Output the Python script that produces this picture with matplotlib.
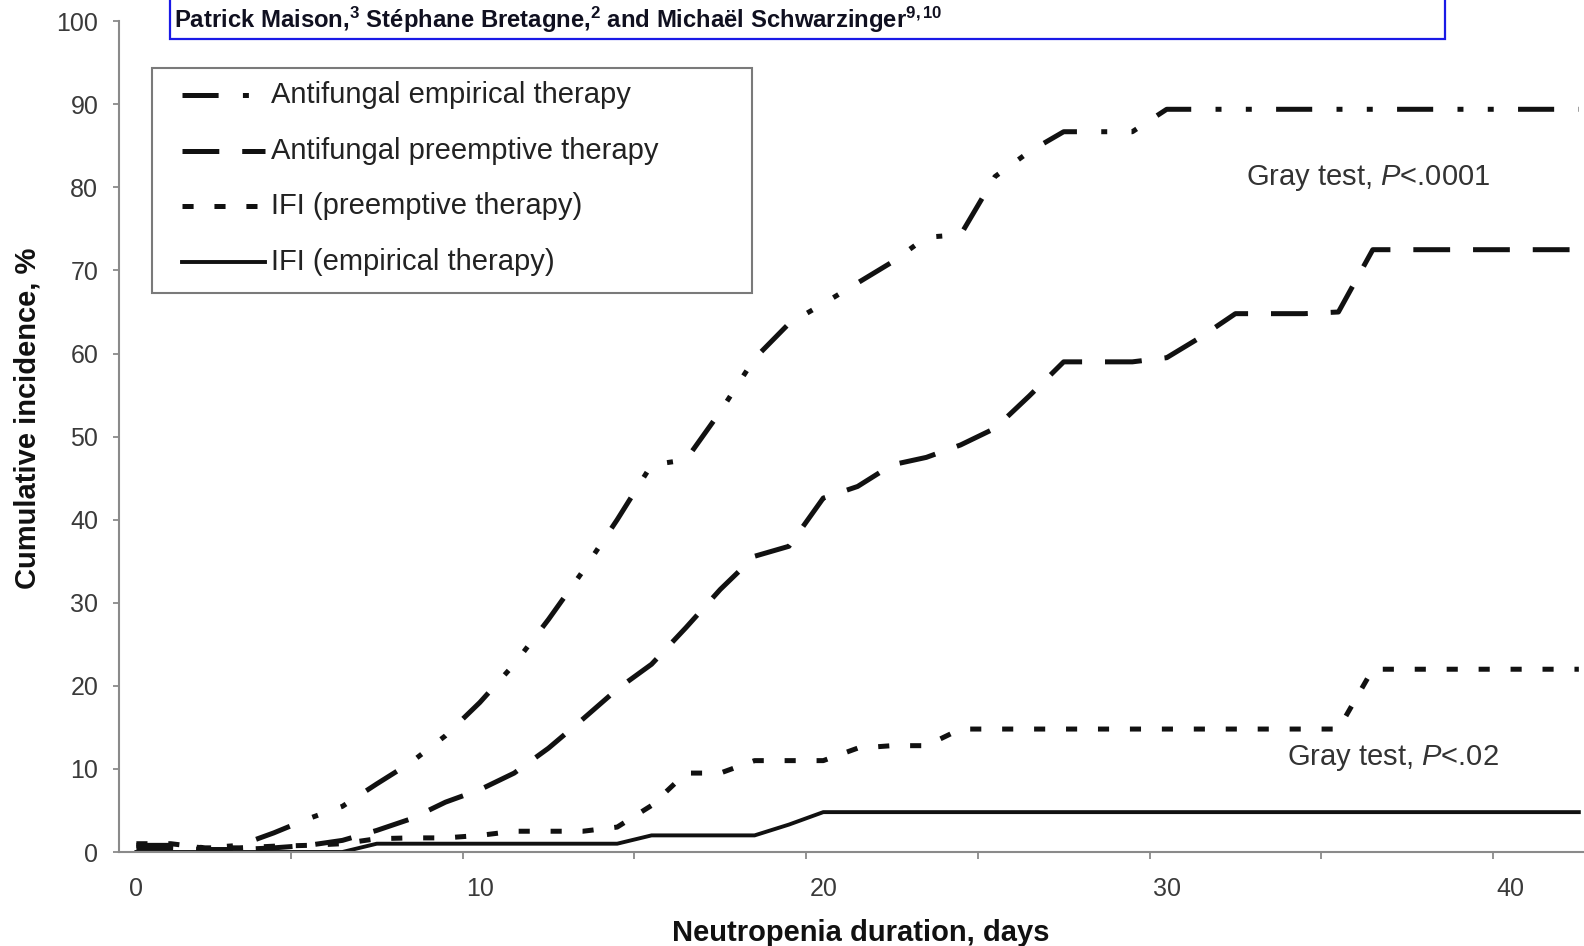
import numpy as np
import matplotlib
matplotlib.use('Agg')
import matplotlib.pyplot as plt
from matplotlib.patches import Rectangle
from matplotlib.lines import Line2D

plt.rcParams['font.family'] = ['Liberation Sans', 'DejaVu Sans']
plt.rcParams['mathtext.fontset'] = 'custom'
plt.rcParams['mathtext.rm'] = 'Liberation Sans:bold'
plt.rcParams['mathtext.it'] = 'Liberation Sans:italic'
plt.rcParams['lines.scale_dashes'] = False

# cumulative incidence (%) by neutropenia day 0..42
days = list(range(43))
empirical = [0.8, 0.8, 0.5, 0.8, 2.3, 4.0, 5.5, 8.2, 10.8, 14.0,
             18.0, 22.6, 28.0, 33.8, 40.0, 46.6, 47.2, 53.0, 59.4, 63.6,
             66.0, 68.5, 71.0, 74.0, 74.3, 81.3, 84.3, 86.7, 86.7, 86.7,
             89.4, 89.4, 89.4, 89.4, 89.4, 89.4, 89.4, 89.4, 89.4, 89.4,
             89.4, 89.4, 89.4]
preemptive = [0.5, 0.5, 0.3, 0.3, 0.5, 0.8, 1.4, 2.6, 4.0, 6.0,
              7.5, 9.5, 12.5, 16.0, 19.6, 22.6, 27.0, 31.6, 35.6, 36.8,
              42.6, 44.0, 46.6, 47.5, 49.0, 51.0, 54.9, 59.0, 59.0, 59.0,
              59.5, 62.0, 64.8, 64.8, 64.8, 65.0, 72.5, 72.5, 72.5, 72.5,
              72.5, 72.5, 72.5]
ifi_preemptive = [1.0, 1.0, 0.5, 0.5, 0.7, 0.8, 1.0, 1.6, 1.7, 1.7,
                  2.0, 2.5, 2.5, 2.5, 3.0, 5.6, 9.5, 9.5, 11.0, 11.0,
                  11.0, 12.5, 12.8, 12.8, 14.8, 14.8, 14.8, 14.8, 14.8, 14.8,
                  14.8, 14.8, 14.8, 14.8, 14.8, 14.8, 22.0, 22.0, 22.0, 22.0,
                  22.0, 22.0, 22.0]
ifi_empirical = [0.0, 0.0, 0.0, 0.0, 0.0, 0.0, 0.0, 1.0, 1.0, 1.0,
                 1.0, 1.0, 1.0, 1.0, 1.0, 2.0, 2.0, 2.0, 2.0, 3.3,
                 4.8, 4.8, 4.8, 4.8, 4.8, 4.8, 4.8, 4.8, 4.8, 4.8,
                 4.8, 4.8, 4.8, 4.8, 4.8, 4.8, 4.8, 4.8, 4.8, 4.8,
                 4.8, 4.8, 4.8]

labels = ['Antifungal empirical therapy', 'Antifungal preemptive therapy',
          'IFI (preemptive therapy)', 'IFI (empirical therapy)']
series = [empirical, preemptive, ifi_preemptive, ifi_empirical]
x_ticks = [0, 10, 20, 30, 40]
y_ticks = list(range(0, 101, 10))

styles = [
    dict(color='#111111', lw=3.6, dashes=(26, 17.5, 4.3, 17.5, 4.3, 17.5)),
    dict(color='#111111', lw=3.6, dashes=(26.5, 16.5)),
    dict(color='#111111', lw=3.6, dashes=(8, 15)),
    dict(color='#111111', lw=2.8, linestyle='-'),
]

# pixel helpers (reference layout, 1568x936 frame)
W, H = 1568.0, 936.0
def fx(px):
    return px / W
def fy(py):
    return 1 - py / H

fig = plt.figure(figsize=(15.84, 9.46), dpi=100)
ax = fig.add_axes([fx(118), fy(843), 1 - fx(118), fy(21) - fy(843)])

for vals, st in zip(series, styles):
    ax.plot(days, vals, **st)

ax.set_xlim(-0.5, 42.15)
ax.set_ylim(0, 100)
for s in ['top', 'right']:
    ax.spines[s].set_visible(False)
for s in ['left', 'bottom']:
    ax.spines[s].set_color('#8a8a8a')
    ax.spines[s].set_linewidth(1.5)

ax.set_xticks(x_ticks)
ax.set_xticks(np.arange(4.5, 42, 5), minor=True)
ax.tick_params(axis='x', which='major', length=0, pad=18, labelsize=18, labelcolor='#3a3a3a')
ax.tick_params(axis='x', which='minor', length=5, width=1.3, color='#8a8a8a', direction='out')
ax.set_yticks(y_ticks)
ax.tick_params(axis='y', length=4, width=1.3, color='#8a8a8a', pad=11, labelsize=18, labelcolor='#3a3a3a')

ax.set_xlabel('Neutropenia duration, days', fontsize=21, fontweight='bold', color='#111111')
ax.xaxis.set_label_coords(0.506, -0.081)
ax.set_ylabel('Cumulative incidence, %', fontsize=21, fontweight='bold', color='#111111')
ax.yaxis.set_label_coords(-0.053, 0.522)

ax.text(32.3, 81.1, 'Gray test, $P$<.0001', fontsize=21, color='#333333', va='center')
ax.text(33.5, 11.3, 'Gray test, $P$<.02', fontsize=21, color='#333333', va='center')

# legend box
fig.add_artist(Rectangle((fx(150), fy(290)), fx(744) - fx(150), fy(67) - fy(290),
                         transform=fig.transFigure, facecolor='white',
                         edgecolor='#7a7a7a', lw=1.5))
rows_y = [94, 149, 204, 259]
for lab, st, yy in zip(labels, styles, rows_y):
    fig.add_artist(Line2D([fx(180), fx(262)], [fy(yy), fy(yy)],
                          transform=fig.transFigure, **st))
    fig.text(fx(268), fy(yy), lab, fontsize=21, color='#222222', va='center')

# author line box at the top
fig.add_artist(Rectangle((fx(168), fy(39)), fx(1430) - fx(168), 0.1,
                         transform=fig.transFigure, facecolor='white',
                         edgecolor='#1a1ae6', lw=1.6, clip_on=False, zorder=4))
fig.text(fx(172), fy(28),
         'Patrick Maison,$^{3}$ St\u00e9phane Bretagne,$^{2}$ and Micha\u00ebl Schwarzinger$^{9,10}$',
         fontsize=17.2, fontweight='bold', color='#101020', va='baseline',
         family=['Liberation Sans Narrow', 'Liberation Sans'], zorder=5)

fig.savefig('out.png', dpi=100)
